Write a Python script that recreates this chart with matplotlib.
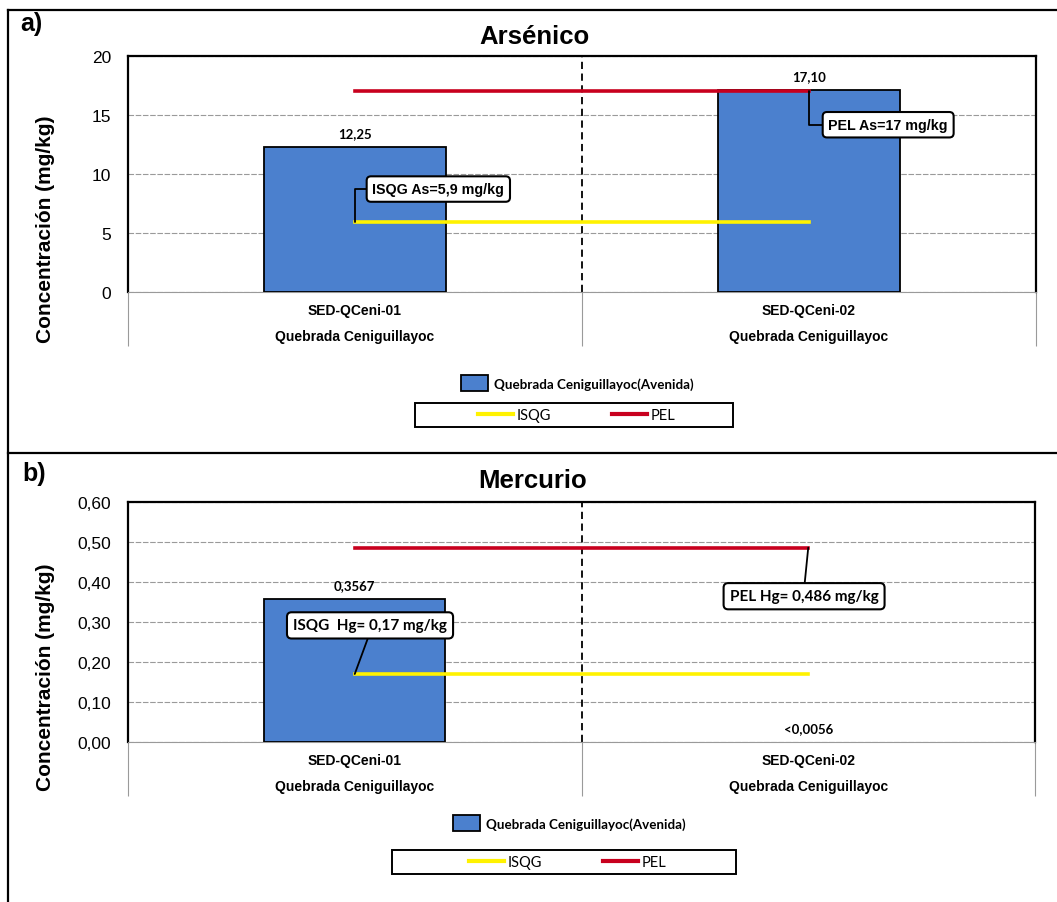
#python3

import numpy as np
import matplotlib
matplotlib.use('Agg')
import matplotlib.pyplot as plt
from matplotlib.lines import Line2D
from matplotlib.patches import Rectangle
from matplotlib.ticker import FuncFormatter

#data
stations = ['SED-QCeni-01', 'SED-QCeni-02']
site = 'Quebrada Ceniguillayoc'
series_name = 'Quebrada Ceniguillayoc(Avenida)'

as_values = [12.25, 17.10]
as_labels = ['12,25', '17,10']
as_isqg = 5.9
as_pel = 17

hg_values = [0.3567, 0.0]  #second sample below detection limit
hg_labels = ['0,3567', '<0,0056']
hg_isqg = 0.17
hg_pel = 0.486

#styles
ARIAL = 'Liberation Sans'
CALIBRI = 'Lato'
bar_color = '#4B80CE'
isqg_color = '#FFF200'
pel_color = '#C8001E'

W, H = 1057, 903
fig = plt.figure(figsize=(W/100, H/100), dpi=100)


def comma_formatter(ndec):
    fmt = '%.' + str(ndec) + 'f'
    return FuncFormatter(lambda v, p: (fmt % v).replace('.', ','))


def make_panel(rect, values, labels, isqg, pel, ymax, ystep, ndec, sep_depth):
    ax = fig.add_axes(rect)
    x = np.arange(len(stations))
    bars = ax.bar(x, values, width=0.40, color=bar_color, edgecolor='black',
                  linewidth=1.3, label=series_name, zorder=3)
    for b, v in zip(bars, values):
        if v == 0:
            b.set_linewidth(0)
    ax.bar_label(bars, labels=labels, padding=6, fontsize=9.5,
                 fontfamily=CALIBRI, fontweight='bold')
    l1, = ax.plot(x, [isqg]*len(x), color=isqg_color, lw=2.6, label='ISQG', zorder=4)
    l2, = ax.plot(x, [pel]*len(x), color=pel_color, lw=2.6, label='PEL', zorder=4)

    ax.set_xlim(-0.5, len(x) - 0.5)
    ax.set_ylim(0, ymax)
    ax.set_yticks(np.arange(0, ymax + ystep/2, ystep))
    ax.yaxis.set_major_formatter(comma_formatter(ndec))
    ax.set_xticks(x, labels=[s + '\n' + site for s in stations],
                  fontfamily=ARIAL, fontweight='bold', fontsize=10, linespacing=2.05)
    ax.tick_params(axis='x', length=0, pad=8)
    ax.tick_params(axis='y', length=0, pad=12, labelsize=12.5, labelfontfamily=ARIAL)

    ax.yaxis.grid(True, color='#9a9a9a', lw=0.8, ls=(0, (5, 1.5)))
    ax.set_axisbelow(True)
    for s in ['left', 'top', 'right']:
        ax.spines[s].set_linewidth(1.6)
    ax.spines['bottom'].set_color('#9a9a9a')
    ax.spines['bottom'].set_linewidth(0.8)

    #category separator
    ax.axvline(0.5, color='black', lw=1.3, ls=(0, (4, 2.5)), zorder=2)
    ax.vlines([-0.5, 0.5, 1.5], -sep_depth, 0, transform=ax.get_xaxis_transform(),
              colors='#9a9a9a', lw=0.8, clip_on=False)

    ax.set_ylabel('Concentración (mg/kg)', fontsize=15, fontweight='bold',
                  fontfamily=ARIAL)
    return ax, bars, l1, l2


def legends(bars, l1, l2, y1, y2, xc1, xc2, box):
    fig.legend(handles=[bars], loc='center', bbox_to_anchor=(xc1, y1),
               bbox_transform=fig.transFigure, frameon=False,
               prop={'family': CALIBRI, 'weight': 'bold', 'size': 9.6},
               handlelength=2.0, handleheight=1.4, handletextpad=0.45)
    leg2 = fig.legend(handles=[l1, l2], loc='center', bbox_to_anchor=(xc2, y2),
                      bbox_transform=fig.transFigure, frameon=False, ncol=2,
                      prop={'family': CALIBRI, 'size': 10.5},
                      handlelength=2.4, handletextpad=0.25, columnspacing=4.2)
    for h in leg2.get_lines():
        h.set_linewidth(3)
    x0, y0, x1, y1b = box
    fig.add_artist(Rectangle((x0/W, 1 - y1b/H), (x1 - x0)/W, (y1b - y0)/H,
                             transform=fig.transFigure, fill=False,
                             edgecolor='black', lw=1.4))


box_kw = dict(boxstyle='round,pad=0.4,rounding_size=0.3', fc='white', ec='black', lw=1.5)
elbow = dict(arrowstyle='-', color='black', lw=1.3, shrinkA=0, shrinkB=0,
             relpos=(0, 0.5), connectionstyle='angle,angleA=0,angleB=90,rad=0')

#panel a) arsenic
ax1, b1, l1, l2 = make_panel([128/W, 1 - 293/H, 908/W, 236/H], as_values, as_labels,
                             as_isqg, as_pel, 20, 5, 0, 0.229)
ax1.annotate('ISQG As=5,9 mg/kg', xy=(0, as_isqg), xytext=(60, 24),
             textcoords='offset points', ha='center', va='center',
             fontsize=10.3, fontweight='bold', fontfamily=ARIAL, bbox=box_kw,
             arrowprops=elbow, zorder=6)
ax1.annotate('PEL As=17 mg/kg', xy=(1, as_pel), xytext=(57, -24),
             textcoords='offset points', ha='center', va='center',
             fontsize=10.3, fontweight='bold', fontfamily=ARIAL, bbox=box_kw,
             arrowprops=elbow, zorder=6)
legends(b1, l1, l2, 1 - 384/H, 1 - 416/H, 577.5/W, 577/W, (415, 404, 733, 428))

#panel b) mercury
ax2, b2, m1, m2 = make_panel([128/W, 1 - 743/H, 907/W, 240/H], hg_values, hg_labels,
                             hg_isqg, hg_pel, 0.60, 0.10, 2, 0.225)
ax2.annotate('ISQG  Hg= 0,17 mg/kg', xy=(0, hg_isqg), xytext=(11, 35),
             textcoords='offset points', ha='center', va='center',
             fontsize=11, fontweight='bold', fontfamily=CALIBRI, bbox=box_kw,
             arrowprops=dict(arrowstyle='-', color='black', lw=1.3, shrinkA=0, shrinkB=0,
                             relpos=(0.5, 0)),
             zorder=6)
ax2.annotate('PEL Hg= 0,486 mg/kg', xy=(1, hg_pel), xytext=(-3, -35),
             textcoords='offset points', ha='center', va='center',
             fontsize=11, fontweight='bold', fontfamily=CALIBRI, bbox=box_kw,
             arrowprops=dict(arrowstyle='-', color='black', lw=1.3, shrinkA=0, shrinkB=0,
                             relpos=(0.5, 1)),
             zorder=6)
legends(b2, m1, m2, 1 - 824/H, 1 - 863/H, 569.5/W, 567.5/W, (392, 851, 736, 875))

#y labels placed in figure pixels
for ax, yc in [(ax1, 229), (ax2, 677)]:
    ax.yaxis.set_label_coords(55/W, 1 - yc/H, transform=fig.transFigure)

#titles and panel letters
fig.text(534/W, 1 - 37/H, 'Arsénico', ha='center', va='center', fontsize=18.5,
         fontweight='bold', fontfamily=ARIAL)
fig.text(533/W, 1 - 481/H, 'Mercurio', ha='center', va='center', fontsize=18.5,
         fontweight='bold', fontfamily=ARIAL)
fig.text(20/W, 1 - 24/H, 'a)', ha='left', va='center', fontsize=18,
         fontweight='bold', fontfamily=ARIAL)
fig.text(22/W, 1 - 474/H, 'b)', ha='left', va='center', fontsize=18,
         fontweight='bold', fontfamily=ARIAL)

#outer frame of the two panels
frame = dict(transform=fig.transFigure, color='black', lw=1.6)
fig.add_artist(Line2D([8/W, 8/W], [0, 1 - 11/H], **frame))
fig.add_artist(Line2D([8/W, 1], [1 - 11/H, 1 - 11/H], **frame))
fig.add_artist(Line2D([8/W, 1], [1 - 454/H, 1 - 454/H], **frame))

plt.savefig('out.png', dpi=100)
